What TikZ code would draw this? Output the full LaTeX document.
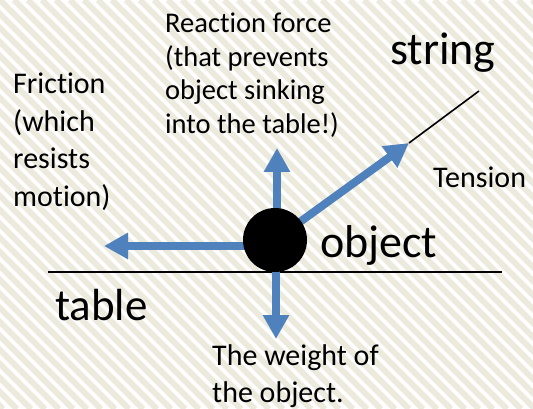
\documentclass[tikz,border=0pt]{standalone}
\usepackage{fontspec}
\setmainfont{Carlito}[Ligatures=NoCommon]
\usepackage{tikz}
\usetikzlibrary{arrows.meta}
\definecolor{ForceBlue}{HTML}{4F81BD}
\definecolor{Stripe}{HTML}{ECEADD}

\begin{document}
\begin{tikzpicture}[x=1pt,y=-1pt,
  force/.style={draw=ForceBlue,line width=8pt,-{Triangle[length=24pt,width=25pt]}},
  ball/.style={circle,fill=black,minimum size=64pt,inner sep=0pt},
  label/.style={font=\fontsize{30}{38}\selectfont,align=left,inner sep=0pt,anchor=base west},
  biglabel/.style={font=\fontsize{46}{55}\selectfont,inner sep=0pt,anchor=base west}
]
  % striped background
  \fill[white] (0,0) rectangle (533,409);
  \begin{scope}
    \clip (0,0) rectangle (533,409);
    \foreach \s in {-420,-406,...,540}
      \draw[Stripe,line width=6pt] (\s,0) -- (\s+409,409);
  \end{scope}
  \useasboundingbox (0,0) rectangle (533,409);

  % table surface
  \coordinate (tableL) at (48,272);
  \coordinate (tableR) at (502,272);
  \draw[line width=2pt] (tableL) -- (tableR);

  % forces acting on the object
  \coordinate (c)       at (275,240);
  \coordinate (fricTip) at (104,246);
  \coordinate (reacTip) at (277,148);
  \coordinate (tensTip) at (409,143);
  \coordinate (weigTip) at (276,339);
  \coordinate (strEnd)  at (479,91);
  \draw[force] ([yshift=-6pt]c) -- (fricTip);
  \draw[force] ([xshift=2pt]c) -- (reacTip);
  \draw[force] (c) -- (tensTip);
  \draw[force] ([xshift=1pt]c) -- (weigTip);
  \draw[line width=1.6pt] (tensTip) -- (strEnd);
  \node[ball] (obj) at (c) {};

  % labels (multi-line ones anchored at their last baseline)
  \node[label,font=\fontsize{28.5}{33.5}\selectfont] (reaction) at (165,133.5)
    {Reaction force\\(that prevents\\object sinking\\into the table!)};
  \node[label] (friction) at (13,207) {Friction\\(which\\resists\\motion)};
  \node[label] (tension)  at (433,187) {Tension};
  \node[label,font=\fontsize{30}{37}\selectfont] (weight) at (212,402)
    {The weight of\\the object.};
  \node[biglabel] (string) at (390,65)  {string};
  \node[biglabel] (objlbl) at (320,257) {object};
  \node[biglabel,font=\fontsize{45}{54}\selectfont] (table) at (55,320) {table};
\end{tikzpicture}
\end{document}
